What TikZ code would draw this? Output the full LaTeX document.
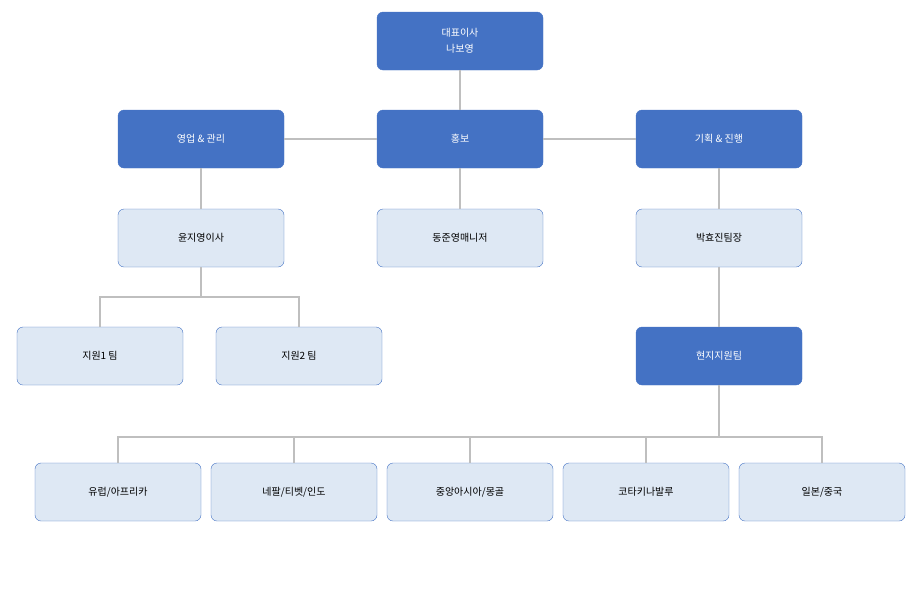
\documentclass[tikz,border=0pt]{standalone}
\usepackage{fontspec}
\setmainfont{Noto Sans CJK KR}
\usetikzlibrary{positioning}
\definecolor{boss}{HTML}{4472C4}
\definecolor{staff}{HTML}{DEE8F4}
\definecolor{wire}{HTML}{BFBFBF}

\begin{document}
\begin{tikzpicture}[x=1pt,y=-1pt,
  dark/.style={rectangle,rounded corners=6pt,fill=boss,draw=boss,text=white,minimum width=166pt,minimum height=58pt,font=\fontsize{10}{16}\selectfont,align=center},
  light/.style={rectangle,rounded corners=6pt,fill=staff,draw=boss,text=black,minimum width=166pt,minimum height=58pt,font=\fontsize{10}{16}\selectfont},
  link/.style={draw=wire,line width=1.2pt}]
\useasboundingbox (0,0) rectangle (918,600);
% Draw the nodes used for the picture
\node[dark](ceo) at (460,41){대표이사\\나보영};
\node[dark](pr) at (460,139){홍보};
\node[dark](sales) at (201,139){영업 \& 관리};
\node[dark](plan) at (719,139){기획 \& 진행};
\node[light](yoon) at (201,238){윤지영이사};
\node[light](dong) at (460,238){동준영매니저};
\node[light](park) at (719,238){박효진팀장};
\node[light](sup1) at (100,356){지원1 팀};
\node[light](sup2) at (299,356){지원2 팀};
\node[dark](local) at (719,356){현지지원팀};
\node[light](eu) at (118,492){유럽/아프리카};
\node[light](np) at (294,492){네팔/티벳/인도};
\node[light](ca) at (470,492){중앙아시아/몽골};
\node[light](kt) at (646,492){코타키나발루};
\node[light](jp) at (822,492){일본/중국};
\coordinate(busa) at (201,297);
\coordinate(busb) at (719,437);

% Draw the edges between the nodes
\draw[link] (ceo) -- (pr);
\draw[link] (sales) -- (pr);
\draw[link] (pr) -- (plan);
\draw[link] (sales) -- (yoon);
\draw[link] (pr) -- (dong);
\draw[link] (plan) -- (park);
\draw[link] (park) -- (local);
\draw[link] (yoon) -- (busa);
\draw[link] (busa) -| (sup1);
\draw[link] (busa) -| (sup2);
\draw[link] (local) -- (busb);
\draw[link] (busb) -| (eu);
\draw[link] (busb) -| (np);
\draw[link] (busb) -| (ca);
\draw[link] (busb) -| (kt);
\draw[link] (busb) -| (jp);
\end{tikzpicture}
\end{document}
